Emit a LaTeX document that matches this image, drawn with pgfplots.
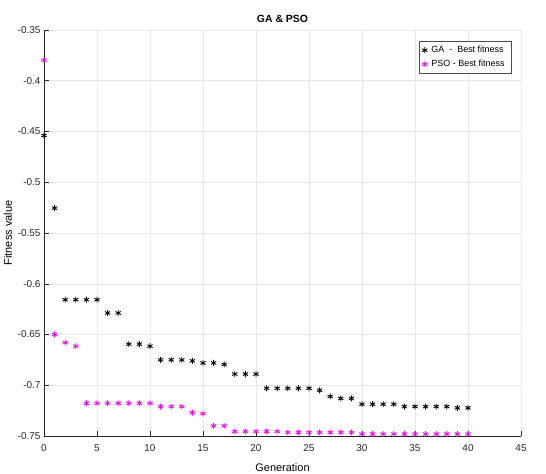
\documentclass[border=0pt]{standalone}
\usepackage{pgfplots}
\pgfplotsset{compat=1.18}
\usepackage{fontspec}
\setmainfont{Liberation Sans}
\definecolor{mag}{rgb}{1,0,1}
\begin{document}
\begin{tikzpicture}
\useasboundingbox (0,0) rectangle (546bp,474bp);
\begin{axis}[
  at={(44bp,38bp)}, anchor=south west,
  width=477bp, height=406bp, scale only axis,
  xmin=0, xmax=45, ymin=-0.75, ymax=-0.35,
  xtick={0,5,...,45},
  ytick={-0.75,-0.7,-0.65,-0.6,-0.55,-0.5,-0.45,-0.4,-0.35},
  yticklabels={-0.75,-0.7,-0.65,-0.6,-0.55,-0.5,-0.45,-0.4,-0.35},
  axis x line=bottom, axis y line=left,
  axis line style={-, line width=0.6pt, black!85},
  tick align=inside, major tick length=5bp,
  tick style={black!85, line width=0.5pt},
  grid=major, major grid style={gray!18, line width=0.5pt},
  /pgf/number format/assume math mode=true,
  ticklabel style={font=\fontsize{10}{11}\selectfont, black!85},
  xticklabel style={yshift=-5bp},
  title={\bfseries GA \& PSO},
  title style={font=\fontsize{10.5}{12}\selectfont, yshift=-2bp},
  xlabel={Generation}, ylabel={Fitness value},
  label style={font=\fontsize{11}{12}\selectfont},
  xlabel style={yshift=-5bp},
  ylabel style={yshift=-1bp},
  legend style={at={(0.981,0.973)}, anchor=north east, font=\fontsize{9}{10}\selectfont,
    draw=black!70, line width=0.6pt, row sep=2bp, inner sep=3bp,
    nodes={inner xsep=4bp}},
  legend cell align=left,
  clip=false,
]
\addplot[only marks, mark=asterisk, mark size=3bp, black, mark options={line width=0.9pt}] coordinates {
(0,-0.454) (1,-0.5255) (2,-0.6157) (3,-0.6157) (4,-0.6157) (5,-0.6157)
(6,-0.6288) (7,-0.6288) (8,-0.6595) (9,-0.6595) (10,-0.6615)
(11,-0.675) (12,-0.675) (13,-0.675) (14,-0.676) (15,-0.678) (16,-0.678) (17,-0.6795)
(18,-0.689) (19,-0.689) (20,-0.689)
(21,-0.703) (22,-0.703) (23,-0.703) (24,-0.703) (25,-0.703) (26,-0.705)
(27,-0.711) (28,-0.713) (29,-0.713)
(30,-0.7187) (31,-0.7187) (32,-0.7187) (33,-0.7187)
(34,-0.721) (35,-0.721) (36,-0.721) (37,-0.721) (38,-0.721) (39,-0.7223) (40,-0.7223)
};
\addlegendentry{GA \ - \ Best fitness}
\addplot[only marks, mark=asterisk, mark size=3bp, mag, mark options={line width=0.9pt}] coordinates {
(0,-0.3797) (1,-0.65) (2,-0.658) (3,-0.6615)
(4,-0.7177) (5,-0.7177) (6,-0.7177) (7,-0.7177) (8,-0.7177) (9,-0.7177) (10,-0.7177)
(11,-0.721) (12,-0.721) (13,-0.721) (14,-0.727) (15,-0.728)
(16,-0.740) (17,-0.740)
(18,-0.7455) (19,-0.7455) (20,-0.7455) (21,-0.7455) (22,-0.7455)
(23,-0.7465) (24,-0.7465) (25,-0.7465) (26,-0.7465) (27,-0.7465) (28,-0.7465) (29,-0.7465)
(30,-0.748) (31,-0.748) (32,-0.748) (33,-0.748) (34,-0.748) (35,-0.748) (36,-0.748) (37,-0.748) (38,-0.748) (39,-0.748) (40,-0.748)
};
\addlegendentry{PSO - Best fitness}
\end{axis}
\end{tikzpicture}
\end{document}
